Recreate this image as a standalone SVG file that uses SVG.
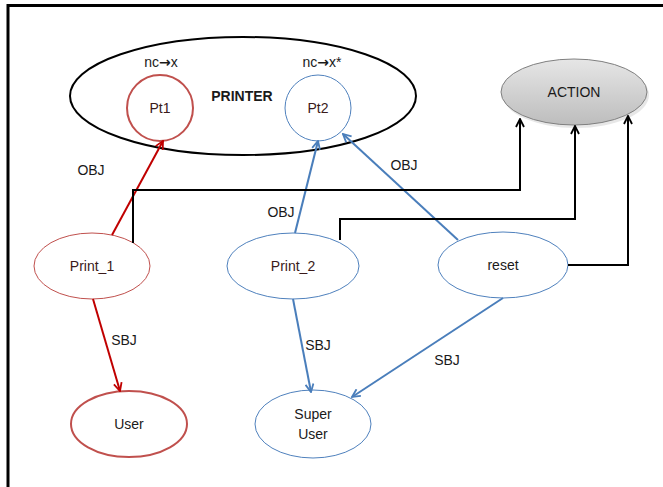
<svg xmlns="http://www.w3.org/2000/svg" width="663" height="487" viewBox="0 0 663 487">
  <style>
    text { font-family: "Liberation Sans", Arial, sans-serif; font-size: 14px; fill: #1a1a1a; }
    .lbl { text-anchor: middle; dominant-baseline: central; }
    .nodeTxt { fill: #3a1a1a; }
    .arw { font-family: "DejaVu Sans", sans-serif; font-weight: bold; font-size: 14px; }
    .red2 { fill: #ffffff; stroke: #c0504d; stroke-width: 2; }
    .red1 { fill: #ffffff; stroke: #c0504d; stroke-width: 1; }
    .blue1 { fill: #ffffff; stroke: #4f81bd; stroke-width: 1; }
    .redArrow { stroke: #c00000; stroke-width: 2; fill: none; marker-end: url(#arrRed); }
    .blueArrow { stroke: #4a7ebb; stroke-width: 2; fill: none; marker-end: url(#arrBlue); }
    .blackArrow { stroke: #000000; stroke-width: 2; fill: none; marker-end: url(#arrBlack); }
  </style>
  <defs>
    <marker id="arrRed" viewBox="0 0 10 10" refX="9" refY="5" markerWidth="5" markerHeight="5" orient="auto" markerUnits="strokeWidth">
      <path d="M1,1 L9,5 L1,9" fill="none" stroke="#c00000" stroke-width="1.8"/>
    </marker>
    <marker id="arrBlue" viewBox="0 0 10 10" refX="9" refY="5" markerWidth="5" markerHeight="5" orient="auto" markerUnits="strokeWidth">
      <path d="M1,1 L9,5 L1,9" fill="none" stroke="#4a7ebb" stroke-width="1.8"/>
    </marker>
    <marker id="arrBlack" viewBox="0 0 10 10" refX="9" refY="5" markerWidth="5" markerHeight="5" orient="auto" markerUnits="strokeWidth">
      <path d="M1,1 L9,5 L1,9" fill="none" stroke="#000000" stroke-width="1.8"/>
    </marker>
    <linearGradient id="actionFill" x1="0" y1="0" x2="0" y2="1">
      <stop offset="0" stop-color="#e6e6e6"/>
      <stop offset="1" stop-color="#bdbdbd"/>
    </linearGradient>
  </defs>

  <!-- page frame -->
  <rect x="0" y="0" width="663" height="487" fill="#ffffff"/>
  <path d="M8,487 L8,5.5 L663,5.5" fill="none" stroke="#000000" stroke-width="3"/>

  <!-- printer container -->
  <g id="printer">
    <ellipse cx="243" cy="96" rx="173" ry="59" fill="none" stroke="#000000" stroke-width="2"/>
    <text x="242" y="96" class="lbl" style="font-weight:bold">PRINTER</text>
  </g>

  <g id="pt1">
    <circle cx="160" cy="108" r="33" class="red2"/>
    <text x="160" y="108" class="lbl nodeTxt">Pt1</text>
    <text x="161" y="62" class="lbl">nc<tspan class="arw">→</tspan>x</text>
  </g>

  <g id="pt2">
    <circle cx="318" cy="108" r="33" class="blue1"/>
    <text x="318" y="108" class="lbl nodeTxt">Pt2</text>
    <text x="322" y="62" class="lbl">nc<tspan class="arw">→</tspan>x*</text>
  </g>

  <g id="action">
    <ellipse cx="576" cy="95" rx="73" ry="33" fill="#d0d0d0" opacity="0.5"/>
    <ellipse cx="574" cy="92" rx="73" ry="33" fill="url(#actionFill)" stroke="#7f7f7f" stroke-width="1"/>
    <text x="574" y="92" class="lbl">ACTION</text>
  </g>

  <g id="print1">
    <ellipse cx="92" cy="266" rx="58" ry="33" class="red1"/>
    <text x="92" y="266" class="lbl nodeTxt">Print_1</text>
  </g>

  <g id="print2">
    <ellipse cx="293" cy="266" rx="66" ry="33" class="blue1"/>
    <text x="293" y="266" class="lbl nodeTxt">Print_2</text>
  </g>

  <g id="reset">
    <ellipse cx="503" cy="265" rx="65" ry="33" class="blue1"/>
    <text x="503" y="265" class="lbl">reset</text>
  </g>

  <g id="user">
    <ellipse cx="129" cy="424" rx="58" ry="33" class="red2"/>
    <text x="129" y="424" class="lbl">User</text>
  </g>

  <g id="superUser">
    <ellipse cx="313" cy="424" rx="58" ry="34" class="blue1"/>
    <text x="313" y="414" class="lbl">Super</text>
    <text x="313" y="434" class="lbl">User</text>
  </g>

  <!-- connectors -->
  <g id="connectors">
    <path d="M112,235 L163,141" class="redArrow"/>
    <path d="M93,299 L120,391" class="redArrow"/>
    <path d="M295,233 L318,141" class="blueArrow"/>
    <path d="M458,240 L343,134" class="blueArrow"/>
    <path d="M293,299 L311,392" class="blueArrow"/>
    <path d="M503,298 L352,397" class="blueArrow"/>
    <path d="M133,243 L133,190 L520,190 L520,119" class="blackArrow"/>
    <path d="M340,240 L340,219 L575,219 L575,126" class="blackArrow"/>
    <path d="M568,265 L628,265 L628,116" class="blackArrow"/>

    <text x="91" y="170" class="lbl">OBJ</text>
    <text x="124" y="340" class="lbl">SBJ</text>
    <text x="281" y="212" class="lbl">OBJ</text>
    <text x="404" y="165" class="lbl">OBJ</text>
    <text x="318" y="345" class="lbl">SBJ</text>
    <text x="447" y="360" class="lbl">SBJ</text>
  </g>
</svg>
